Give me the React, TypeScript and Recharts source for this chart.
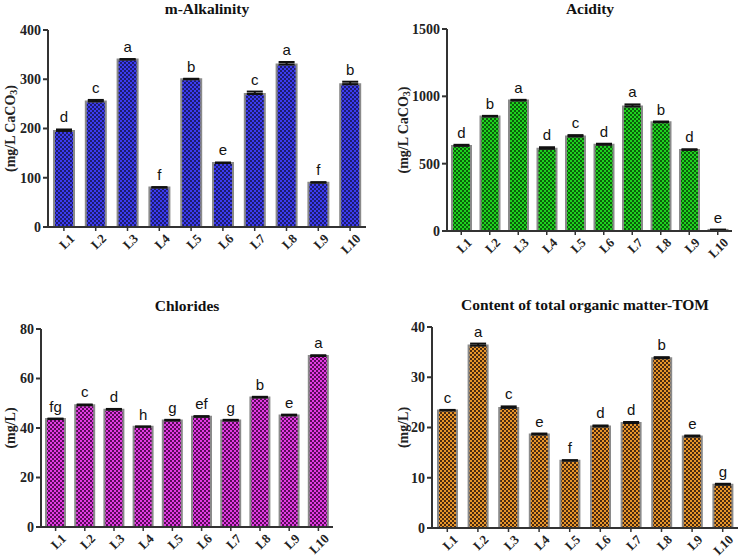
import React from "react";
import { BarChart, Bar, XAxis, YAxis, ErrorBar, LabelList } from "recharts";

const sites = ["L1", "L2", "L3", "L4", "L5", "L6", "L7", "L8", "L9", "L10"];

const alkalinity = [195, 255, 340, 80, 300, 130, 270, 330, 90, 290];
const alkalinityErr = [3, 3, 1, 1, 1, 1, 5, 5, 1, 5];
const alkalinityLetters = ["d", "c", "a", "f", "b", "e", "c", "a", "f", "b"];

const acidity = [632, 850, 969, 610, 702, 640, 925, 808, 602, 8];
const acidityErr = [8, 5, 5, 12, 10, 8, 15, 5, 5, 2];
const acidityLetters = ["d", "b", "a", "d", "c", "d", "a", "b", "d", "e"];

const chlorides = [43.6, 49.2, 47.4, 40.5, 43.0, 44.5, 43.0, 52.3, 45.1, 69.1];
const chloridesErr = [0.2, 0.3, 0.3, 0.1, 0.3, 0.3, 0.3, 0.3, 0.3, 0.3];
const chloridesLetters = ["fg", "c", "d", "h", "g", "ef", "g", "b", "e", "a"];

const tom = [23.4, 36.3, 23.9, 18.6, 13.4, 20.2, 20.9, 33.8, 18.2, 8.6];
const tomErr = [0.1, 0.4, 0.3, 0.2, 0.1, 0.2, 0.2, 0.2, 0.2, 0.2];
const tomLetters = ["c", "a", "c", "e", "f", "d", "d", "b", "e", "g"];

const serif = "'Liberation Serif', 'DejaVu Serif', serif";
const sans = "'Liberation Sans', Arial, sans-serif";
const X_AXIS_H = 30;

const XTick = (props: any) => {
  const { x, y, payload } = props;
  return (
    <g transform={`translate(${x + 5},${y})`}>
      <text x={0} y={0} dy={9} textAnchor="end" transform="rotate(-45)" fontFamily={serif} fontWeight="bold" fontSize={13} fill="#222">
        {payload.value}
      </text>
    </g>
  );
};

type PanelProps = {
  title: string;
  values: number[];
  errors: number[];
  letters: string[];
  domain: [number, number];
  ticks: number[];
  unit: "caco3" | "mgl";
  colors: [string, string];
  pid: string;
  left: number;
  top: number;
  width: number;
  height: number;
  margin: { top: number; right: number; bottom: number; left: number };
  yWidth: number;
  barSize: number;
  titleX: number;
  titleY: number;
  labelX: number;
};

function Panel(p: PanelProps) {
  const data = sites.map((s, i) => ({
    name: s,
    value: p.values[i],
    err: [0, p.errors[i]],
    letter: p.letters[i],
  }));
  const plotH = p.height - p.margin.top - p.margin.bottom - X_AXIS_H;
  const pxPerUnit = plotH / p.domain[1];

  // significance letters sit just above the error cap
  const renderLetter = (props: any) => {
    const { x, y, width, index } = props;
    const errPx = p.errors[index] * pxPerUnit;
    return (
      <text x={x + width / 2} y={y - errPx - 7} textAnchor="middle" fontFamily={sans} fontSize={15} fill="#111">
        {p.letters[index]}
      </text>
    );
  };

  const renderYLabel = (props: any) => {
    const { viewBox } = props;
    const cy = viewBox.y + viewBox.height / 2;
    const cx = p.labelX;
    return (
      <text transform={`rotate(-90, ${cx}, ${cy})`} x={cx} y={cy} textAnchor="middle" dominantBaseline="central" fontFamily={serif} fontWeight="bold" fontSize={14} fill="#222">
        {p.unit === "caco3" ? (
          <>
            {"(mg/L CaCO"}
            <tspan fontSize={10} dy={3}>3</tspan>
            <tspan dy={-3}>)</tspan>
          </>
        ) : (
          "(mg/L)"
        )}
      </text>
    );
  };

  return (
    <div style={{ position: "absolute", left: p.left, top: p.top, width: p.width, height: p.height }}>
      <div
        style={{
          position: "absolute",
          left: p.titleX - 150,
          width: 300,
          top: p.titleY - 10,
          textAlign: "center",
          fontFamily: serif,
          fontWeight: "bold",
          fontSize: 15.5,
          color: "#111",
          lineHeight: "20px",
        }}
      >
        {p.title}
      </div>
      <BarChart width={p.width} height={p.height} data={data} margin={p.margin} barSize={p.barSize}>
        <defs>
          <pattern id={p.pid} width={4} height={4} patternUnits="userSpaceOnUse">
            <rect width={4} height={4} fill={p.colors[1]} />
            <rect width={2} height={2} fill={p.colors[0]} />
            <rect x={2} y={2} width={2} height={2} fill={p.colors[0]} />
          </pattern>
        </defs>
        <XAxis
          dataKey="name"
          interval={0}
          tick={<XTick />}
          axisLine={{ stroke: "#333", strokeWidth: 2 }}
          tickLine={{ stroke: "#333", strokeWidth: 1.5 }}
          tickSize={4}
          height={X_AXIS_H}
        />
        <YAxis
          domain={p.domain}
          ticks={p.ticks}
          interval={0}
          width={p.yWidth}
          axisLine={{ stroke: "#333", strokeWidth: 2 }}
          tickLine={{ stroke: "#333", strokeWidth: 2 }}
          tickSize={5}
          tick={{ fontFamily: serif, fontWeight: "bold", fontSize: 14, fill: "#222" }}
          label={{ content: renderYLabel }}
        />
        <Bar dataKey="value" fill={`url(#${p.pid})`} stroke="#8a8a8a" strokeWidth={2} isAnimationActive={false}>
          <ErrorBar dataKey="err" direction="y" stroke="#111" strokeWidth={2} width={8} />
          <LabelList dataKey="letter" content={renderLetter} />
        </Bar>
      </BarChart>
    </div>
  );
}

export default function App() {
  return (
    <div style={{ position: "absolute", left: 0, top: 0, width: 741, height: 558, background: "#fff", overflow: "hidden" }}>
      <Panel
        title="m-Alkalinity"
        values={alkalinity}
        errors={alkalinityErr}
        letters={alkalinityLetters}
        domain={[0, 400]}
        ticks={[0, 100, 200, 300, 400]}
        unit="caco3"
        colors={["#3c3cf0", "#1c1c70"]}
        pid="patBlue"
        left={0}
        top={0}
        width={370}
        height={280}
        margin={{ top: 30, right: 4, bottom: 23, left: 0 }}
        yWidth={48}
        barSize={20}
        titleX={207}
        titleY={9}
        labelX={10}
      />
      <Panel
        title="Acidity"
        values={acidity}
        errors={acidityErr}
        letters={acidityLetters}
        domain={[0, 1500]}
        ticks={[0, 500, 1000, 1500]}
        unit="caco3"
        colors={["#1ed21e", "#0b5e0b"]}
        pid="patGreen"
        left={370}
        top={0}
        width={371}
        height={280}
        margin={{ top: 29, right: 9, bottom: 19, left: 0 }}
        yWidth={77}
        barSize={19}
        titleX={220}
        titleY={9}
        labelX={33}
      />
      <Panel
        title="Chlorides"
        values={chlorides}
        errors={chloridesErr}
        letters={chloridesLetters}
        domain={[0, 80]}
        ticks={[0, 20, 40, 60, 80]}
        unit="mgl"
        colors={["#e23ce2", "#5a0a5a"]}
        pid="patMag"
        left={0}
        top={280}
        width={370}
        height={278}
        margin={{ top: 49, right: 37, bottom: 1, left: 0 }}
        yWidth={41}
        barSize={19}
        titleX={187}
        titleY={26}
        labelX={10}
      />
      <Panel
        title="Content of total organic matter-TOM"
        values={tom}
        errors={tomErr}
        letters={tomLetters}
        domain={[0, 40]}
        ticks={[0, 10, 20, 30, 40]}
        unit="mgl"
        colors={["#e8962a", "#4a2a10"]}
        pid="patOrange"
        left={370}
        top={280}
        width={371}
        height={278}
        margin={{ top: 47, right: 3, bottom: 0, left: 0 }}
        yWidth={62}
        barSize={19}
        titleX={215}
        titleY={25}
        labelX={33}
      />
    </div>
  );
}
